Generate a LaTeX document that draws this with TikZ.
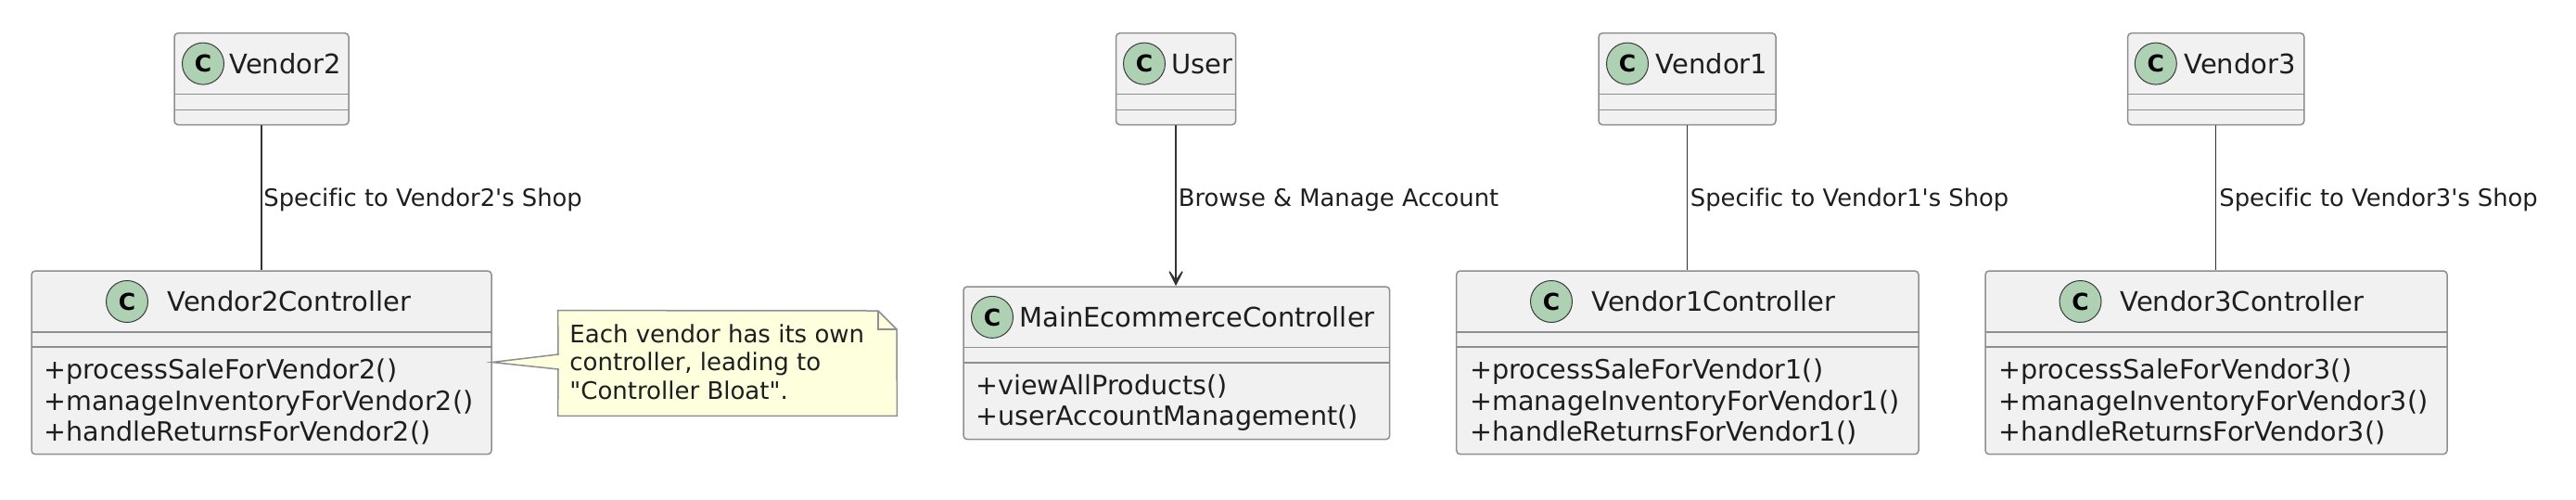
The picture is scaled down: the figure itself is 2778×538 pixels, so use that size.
\documentclass[tikz,border=0pt]{standalone}
\usepackage{fontspec}
\setmainfont{DejaVu Sans}[Ligatures={TeXOff,CommonOff}]
\usetikzlibrary{arrows.meta,fit}
\definecolor{classfill}{HTML}{F1F1F1}
\definecolor{classborder}{HTML}{8E8E8E}
\definecolor{circfill}{HTML}{ADD1B2}
\definecolor{circborder}{HTML}{3A3A3A}
\definecolor{notefill}{HTML}{FEFFDD}
\definecolor{edgecol}{HTML}{333333}
\definecolor{textcol}{HTML}{1E1E1E}
\begin{document}
\begin{tikzpicture}[x=0.5pt,y=-0.5pt,
  classbox/.style={draw=classborder,fill=classfill,line width=0.75pt,rounded corners=2pt,inner sep=0pt},
  sepline/.style={draw=classborder,line width=0.75pt},
  circ/.style={circle,draw=circborder,fill=circfill,line width=0.5pt,minimum size=22.5pt,inner sep=0pt,font=\bfseries\fontsize{12.5}{14}\selectfont,text=black},
  title/.style={anchor=base west,inner sep=0pt,text=textcol,font=\fontsize{14.5}{17}\selectfont},
  member/.style={anchor=base west,inner sep=0pt,text=textcol,font=\fontsize{14.3}{17}\selectfont},
  elabel/.style={anchor=base west,inner sep=0pt,text=textcol,font=\fontsize{12.9}{15}\selectfont},
  notetext/.style={anchor=base west,inner sep=0pt,text=textcol,font=\fontsize{13}{15}\selectfont},
  edge/.style={draw=edgecol,line width=0.7pt}]
\useasboundingbox (0,0) rectangle (2778,538);

% ---------- top classes ----------
\node[classbox,fit={(188,35.7) (376,134.5)}] (v2) {};
\draw[sepline] (188,101.6) -- (376,101.6) (188,118.4) -- (376,118.4);
\node[circ] (v2c1) at (219,68.6) {C};
\node[title] (v2t) at (247,79) {Vendor2};

\node[classbox,fit={(1203.6,35.7) (1332.6,134.5)}] (user) {};
\draw[sepline] (1203.6,101.6) -- (1332.6,101.6) (1203.6,118.4) -- (1332.6,118.4);
\node[circ] (userc1) at (1234,68.6) {C};
\node[title] (usert) at (1263,79) {User};

\node[classbox,fit={(1724,35.7) (1915,134.5)}] (v1) {};
\draw[sepline] (1724,101.6) -- (1915,101.6) (1724,118.4) -- (1915,118.4);
\node[circ] (v1c1) at (1755,68.6) {C};
\node[title] (v1t) at (1785.5,79) {Vendor1};

\node[classbox,fit={(2294.6,35.7) (2484.8,134.5)}] (v3) {};
\draw[sepline] (2294.6,101.6) -- (2484.8,101.6) (2294.6,118.4) -- (2484.8,118.4);
\node[circ] (v3c1) at (2324.8,68.6) {C};
\node[title] (v3t) at (2355,79) {Vendor3};

% ---------- controllers ----------
\node[classbox,fit={(34,292) (530,489.7)}] (v2c) {};
\draw[sepline] (34,358) -- (530,358) (34,374) -- (530,374);
\node[circ] (v2cc) at (137,325) {C};
\node[title] (v2ct) at (180,335.4) {Vendor2Controller};
\node[member] (v2m1) at (47,408.5) {+processSaleForVendor2()};
\node[member] (v2m2) at (47,442) {+manageInventoryForVendor2()};
\node[member] (v2m3) at (47,475.5) {+handleReturnsForVendor2()};

\node[classbox,fit={(1039,309) (1498.7,473.6)}] (main) {};
\draw[sepline] (1039,374.7) -- (1498.7,374.7) (1039,391.2) -- (1498.7,391.2);
\node[circ] (mainc) at (1070,341.9) {C};
\node[title] (maint) at (1099,352) {MainEcommerceController};
\node[member] (mm1) at (1052,425) {+viewAllProducts()};
\node[member] (mm2) at (1052,458.5) {+userAccountManagement()};

\node[classbox,fit={(1570.7,292) (2069,489.7)}] (v1c) {};
\draw[sepline] (1570.7,358) -- (2069,358) (1570.7,374) -- (2069,374);
\node[circ] (v1cc) at (1673,325) {C};
\node[title] (v1ct) at (1716,335.4) {Vendor1Controller};
\node[member] (v1m1) at (1585,408.5) {+processSaleForVendor1()};
\node[member] (v1m2) at (1585,442) {+manageInventoryForVendor1()};
\node[member] (v1m3) at (1585,475.5) {+handleReturnsForVendor1()};

\node[classbox,fit={(2141,292) (2639,489.7)}] (v3c) {};
\draw[sepline] (2141,358) -- (2639,358) (2141,374) -- (2639,374);
\node[circ] (v3cc) at (2243.5,325) {C};
\node[title] (v3ct) at (2286,335.4) {Vendor3Controller};
\node[member] (v3m1) at (2155,408.5) {+processSaleForVendor3()};
\node[member] (v3m2) at (2155,442) {+manageInventoryForVendor3()};
\node[member] (v3m3) at (2155,475.5) {+handleReturnsForVendor3()};

% ---------- connectors ----------
\draw[edge] (v2.south) -- (v2.south |- v2c.north);
\node[elabel] (l2) at (284,222) {Specific to Vendor2's Shop};
\draw[edge,-{Stealth[length=11.5pt,width=11.5pt,inset=8pt]}] (user.south) -- (user.south |- main.north);
\node[elabel] (lu) at (1270.5,222) {Browse \& Manage Account};
\draw[edge] (v1.south) -- (v1.south |- v1c.north);
\node[elabel] (l1) at (1822.5,222) {Specific to Vendor1's Shop};
\draw[edge] (v3.south) -- (v3.south |- v3c.north);
\node[elabel] (l3) at (2393,222) {Specific to Vendor3's Shop};

% ---------- note ----------
\node[inner sep=0pt,fit={(602,335) (967,448)}] (note) {};
\coordinate (tip) at (v2c.east |- 0,390.5);
\draw[draw=classborder,fill=notefill,line width=0.75pt,line join=miter]
  (note.north west) -- (947,335) -- (967,355) -- (note.south east) -- (note.south west)
  -- (602,398) -- (tip) -- (602,382) -- cycle;
\draw[draw=classborder,line width=0.75pt] (947,335) -- (947,355) -- (967,355);
\node[notetext] (n1) at (614,369) {Each vendor has its own};
\node[notetext] (n2) at (614,399.5) {controller, leading to};
\node[notetext] (n3) at (614,430) {"Controller Bloat".};
\end{tikzpicture}
\end{document}
